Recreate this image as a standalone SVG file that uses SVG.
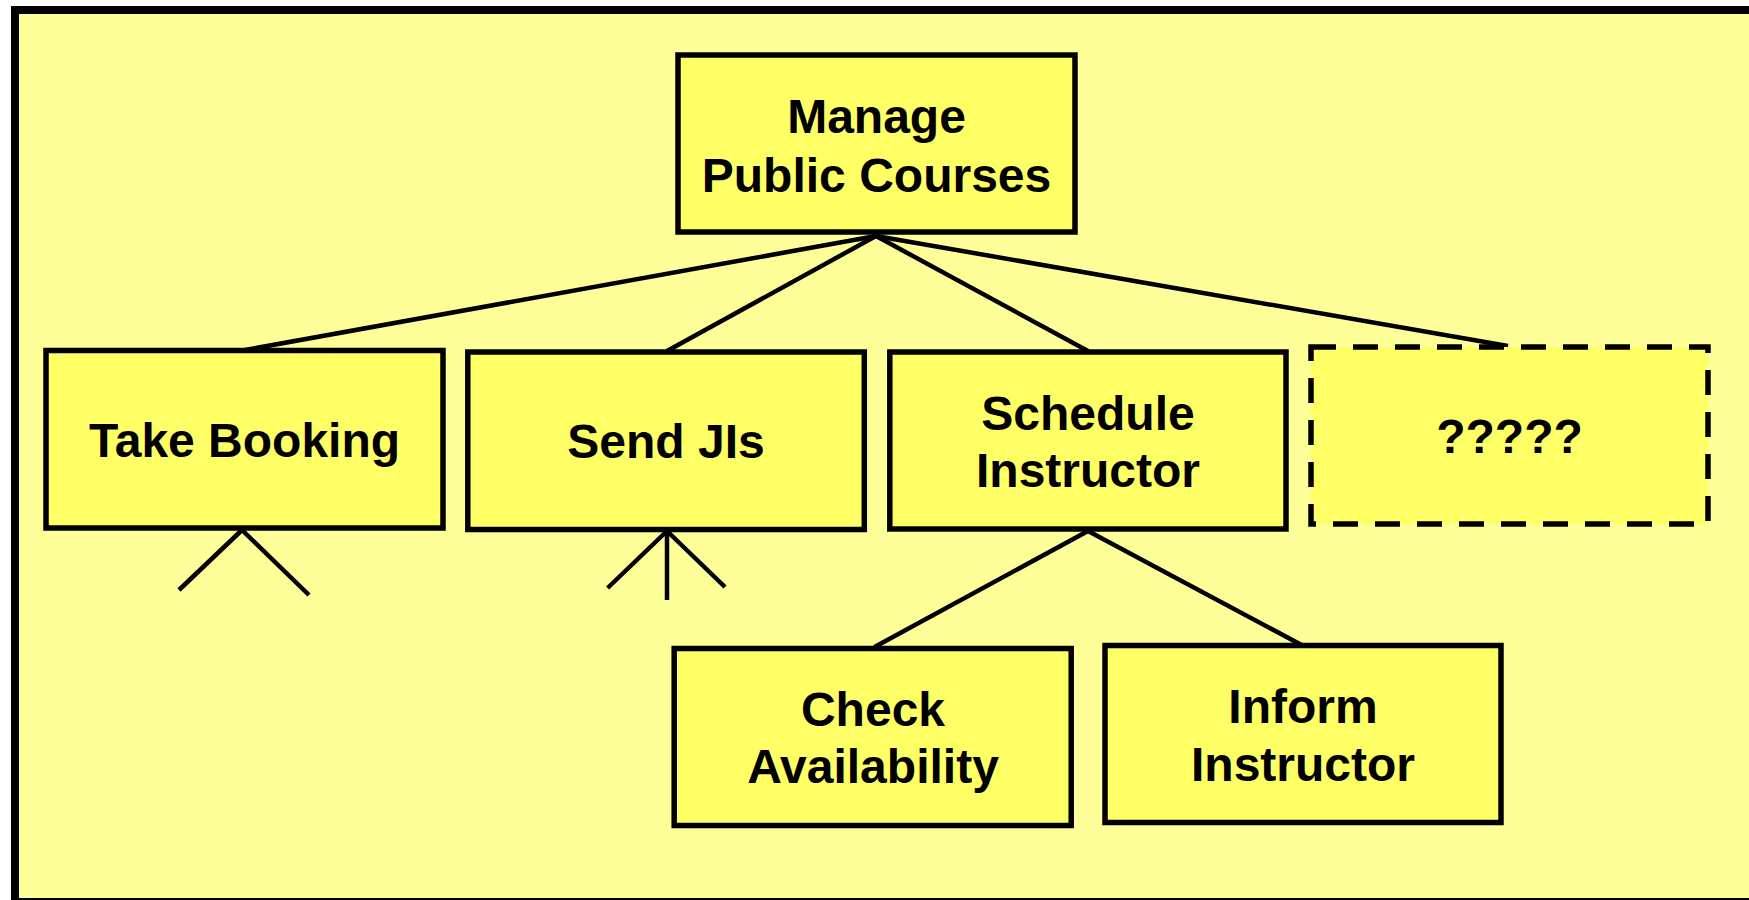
<svg xmlns="http://www.w3.org/2000/svg" width="1749" height="900" viewBox="0 0 1749 900">
<style>
.box{fill:#FFFF66;stroke:#000;stroke-width:5.5}
.dash{fill:#FFFF66;stroke:#000;stroke-width:5.5;stroke-dasharray:25 17}
.lbl{font-family:"Liberation Sans",Arial,sans-serif;font-weight:bold;font-size:48px;fill:#000;text-anchor:middle}
.con line{stroke:#000;stroke-width:4.5;stroke-linecap:butt}
</style>
<rect x="0" y="0" width="1749" height="900" fill="#FFFFFF"/>
<rect id="frame" x="15" y="10" width="1750" height="892" fill="#FFFF99" stroke="#000" stroke-width="8"/>
<g class="con" id="connectors">
<line x1="876" y1="236" x2="245" y2="350"/>
<line x1="876" y1="236" x2="667" y2="351"/>
<line x1="876" y1="236" x2="1088" y2="351"/>
<line x1="876" y1="236" x2="1508" y2="346"/>
<line x1="1088" y1="531" x2="874.5" y2="647"/>
<line x1="1088" y1="531" x2="1301.6" y2="645"/>
<line x1="242" y1="530" x2="179" y2="590"/>
<line x1="242" y1="530" x2="309" y2="595"/>
<line x1="667" y1="531" x2="667" y2="600"/>
<line x1="667" y1="531" x2="607.6" y2="588"/>
<line x1="667" y1="531" x2="725" y2="587"/>
</g>
<g id="manage">
<rect class="box" x="678" y="55" width="397" height="177"/>
<text class="lbl" x="876.5" y="133">Manage</text>
<text class="lbl" x="876.5" y="192">Public Courses</text>
</g>
<g id="take-booking">
<rect class="box" x="46" y="350.5" width="397" height="177.5"/>
<text class="lbl" x="244.5" y="457">Take Booking</text>
</g>
<g id="send-jis">
<rect class="box" x="467.8" y="352" width="396.5" height="177.5"/>
<text class="lbl" x="666" y="458">Send JIs</text>
</g>
<g id="schedule-instructor">
<rect class="box" x="889.8" y="352" width="396.2" height="177"/>
<text class="lbl" x="1088" y="430">Schedule</text>
<text class="lbl" x="1088" y="487">Instructor</text>
</g>
<g id="unknown">
<rect class="dash" x="1311" y="347" width="397" height="177"/>
<text class="lbl" x="1509.5" y="453">?????</text>
</g>
<g id="check-availability">
<rect class="box" x="674.2" y="648.5" width="397" height="177"/>
<text class="lbl" x="873" y="726">Check</text>
<text class="lbl" x="873" y="783">Availability</text>
</g>
<g id="inform-instructor">
<rect class="box" x="1105" y="645.5" width="396" height="177"/>
<text class="lbl" x="1303" y="723">Inform</text>
<text class="lbl" x="1303" y="781">Instructor</text>
</g>
</svg>
